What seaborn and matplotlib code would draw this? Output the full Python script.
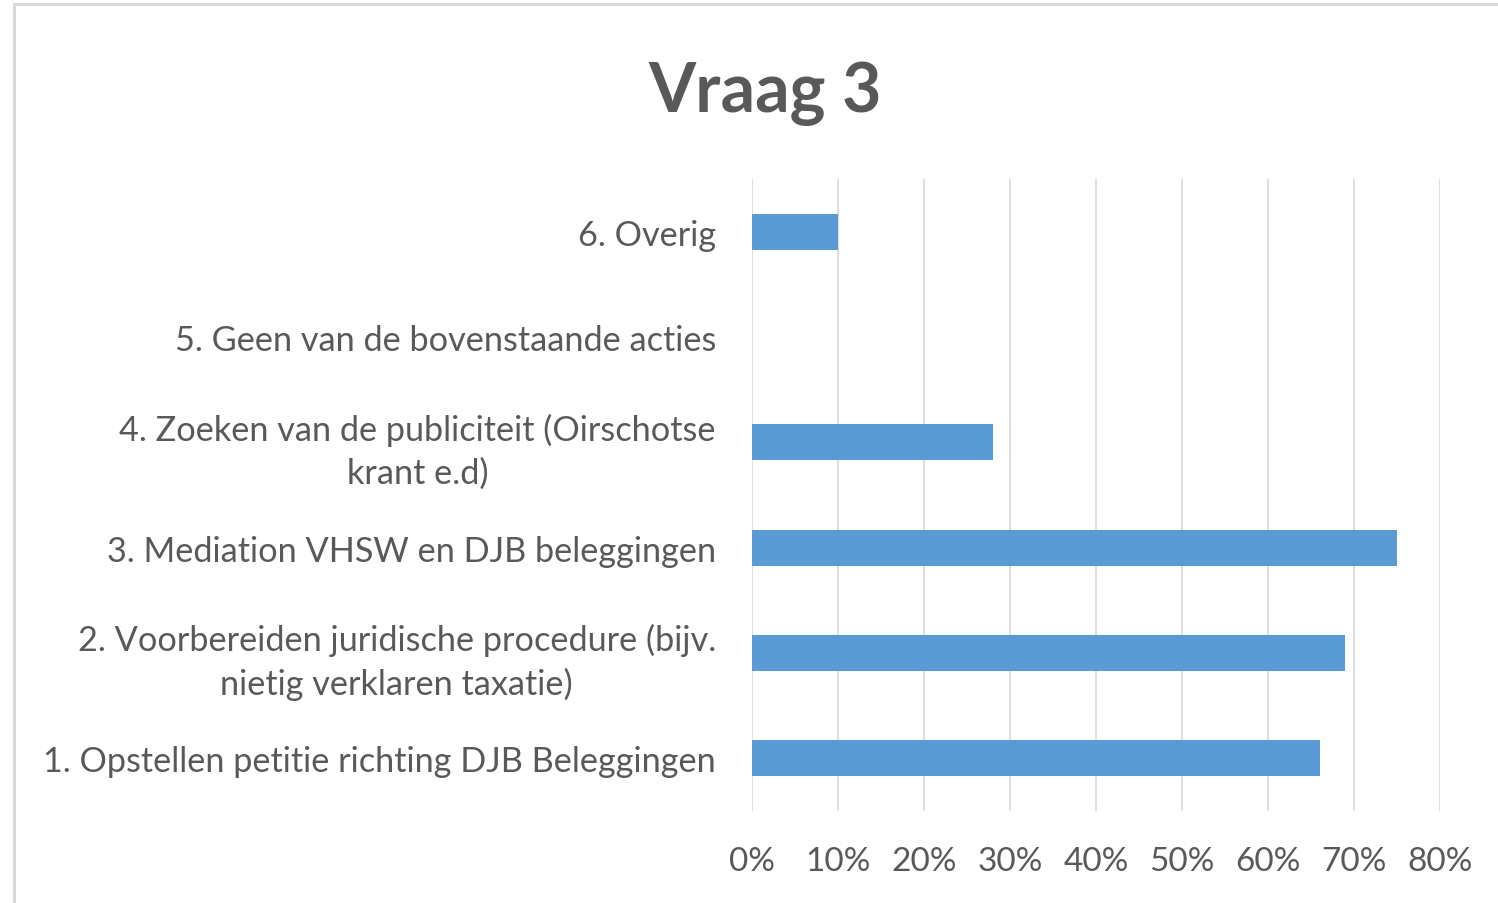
import numpy as np
import pandas as pd
import seaborn as sns
from matplotlib import pyplot as plt
from matplotlib.patches import Rectangle

# data (top to bottom as shown in the chart)
categories = [
    "6. Overig",
    "5. Geen van de bovenstaande acties",
    "4. Zoeken van de publiciteit (Oirschotse\nkrant e.d)",
    "3. Mediation VHSW en DJB beleggingen",
    "2. Voorbereiden juridische procedure (bijv.\nnietig verklaren taxatie)",
    "1. Opstellen petitie richting DJB Beleggingen",
]
values = [0.10, 0.0, 0.28, 0.75, 0.69, 0.66]
x_ticks = [0.0, 0.1, 0.2, 0.3, 0.4, 0.5, 0.6, 0.7, 0.8]
x_tick_labels = ["0%", "10%", "20%", "30%", "40%", "50%", "60%", "70%", "80%"]

df = pd.DataFrame({"actie": categories, "aandeel": values})

sns.set_style("white")
plt.rcParams['font.family'] = ['Lato', 'DejaVu Sans']

text_color = "#595959"
grid_color = "#D9D9D9"
bar_color = "#5B9BD5"

fig = plt.figure(figsize=(14.98, 9.04), dpi=100)
ax = fig.add_axes([0.502, 0.1018, 0.4593, 0.6991])

sns.barplot(data=df, x="aandeel", y="actie", order=categories, orient="h",
            color=bar_color, saturation=1, width=0.34, ax=ax, linewidth=0)

ax.set_xlim(0, 0.8)
ax.set_ylim(5.5, -0.5)
ax.set_xticks(x_ticks)
ax.set_xticklabels(x_tick_labels)
ax.set_xlabel("")
ax.set_ylabel("")

# vertical gridlines only
ax.grid(False)
for t in x_ticks:
    ax.axvline(t, color=grid_color, linewidth=1.2, zorder=0)
for s in ax.spines.values():
    s.set_visible(False)

ax.tick_params(axis="x", length=0, pad=25, labelsize=24, labelcolor=text_color)
ax.tick_params(axis="y", length=0, pad=26, labelsize=24.7, labelcolor=text_color)
for lbl in ax.get_yticklabels():
    lbl.set_multialignment("center")
    lbl.set_linespacing(1.42)

# title
fig.text(0.511, 1 - 112 / 904, "Vraag 3", ha="center", va="baseline",
         fontsize=49, fontweight="bold", color=text_color)

# chart border (right and bottom edges run off the picture)
border = Rectangle((14 / 1498, -0.05), 1.1, 1 - 5 / 904 + 0.05,
                   transform=fig.transFigure, fill=False,
                   edgecolor=grid_color, linewidth=2.2, clip_on=False)
fig.patches.append(border)

plt.savefig("out.png", dpi=100)
